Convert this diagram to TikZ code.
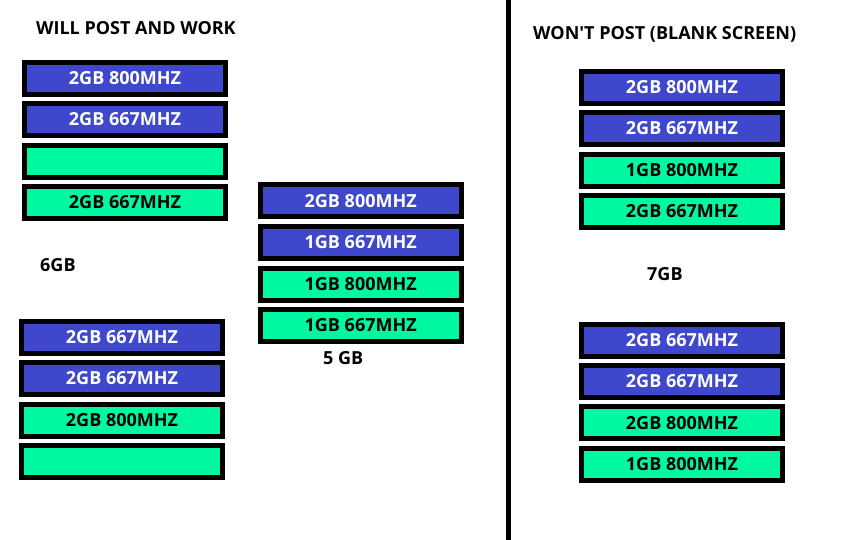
\documentclass[tikz,border=0pt]{standalone}
\usepackage{fontspec}
\setmainfont{Open Sans}
\definecolor{ramblue}{RGB}{63,72,204}
\definecolor{ramgreen}{RGB}{0,248,160}
\tikzset{
  ram/.style={draw=black, line width=5pt, minimum width=201pt, minimum height=32pt,
    inner sep=0pt, font=\fontsize{18pt}{20pt}\selectfont\bfseries, text height=13pt, text depth=0pt},
  blueram/.style={ram, fill=ramblue, text=white},
  greenram/.style={ram, fill=ramgreen, text=black},
  label/.style={anchor=base west, inner sep=0pt, font=\fontsize{18pt}{20pt}\selectfont\bfseries}
}
\begin{document}
\begin{tikzpicture}[x=1pt,y=-1pt]
\useasboundingbox (0,0) rectangle (860,540);
\fill[white] (0,0) rectangle (860,540);
% titles
\node[label] (t1) at (36,35) {WILL POST AND WORK};
\node[label] (t2) at (533,39.5) {WON\textquotesingle T POST (BLANK SCREEN)};
\node[label] (l6) at (40,272) {6GB};
\node[label] (l5) at (323,364) {5 GB};
\node[label] (l7) at (647,281) {7GB};
% divider
\coordinate (dtop) at (508.5,0);
\coordinate (dbot) at (508.5,540);
\draw[line width=5pt] (dtop) -- (dbot);
% group A (top left)
\node[blueram]  (a1) at (125,78.3)  {2GB 800MHZ};
\node[blueram]  (a2) at (125,119.3) {2GB 667MHZ};
\node[greenram] (a3) at (125,161.3) {};
\node[greenram] (a4) at (125,202.3) {2GB 667MHZ};
% group B (middle)
\node[blueram]  (b1) at (360.7,201)   {2GB 800MHZ};
\node[blueram]  (b2) at (360.7,242.3) {1GB 667MHZ};
\node[greenram] (b3) at (360.7,284.2) {1GB 800MHZ};
\node[greenram] (b4) at (360.7,325.2) {1GB 667MHZ};
% group C (bottom left)
\node[blueram]  (c1) at (122,337.3) {2GB 667MHZ};
\node[blueram]  (c2) at (122,378.3) {2GB 667MHZ};
\node[greenram] (c3) at (122,420.2) {2GB 800MHZ};
\node[greenram] (c4) at (122,461.3) {};
% group D (top right)
\node[blueram]  (d1) at (682,87.5)  {2GB 800MHZ};
\node[blueram]  (d2) at (682,128.3) {2GB 667MHZ};
\node[greenram] (d3) at (682,170.3) {1GB 800MHZ};
\node[greenram] (d4) at (682,211.3) {2GB 667MHZ};
% group E (bottom right)
\node[blueram]  (e1) at (682,340.3) {2GB 667MHZ};
\node[blueram]  (e2) at (682,381.2) {2GB 667MHZ};
\node[greenram] (e3) at (682,422.8) {2GB 800MHZ};
\node[greenram] (e4) at (682,464)   {1GB 800MHZ};
\end{tikzpicture}
\end{document}
